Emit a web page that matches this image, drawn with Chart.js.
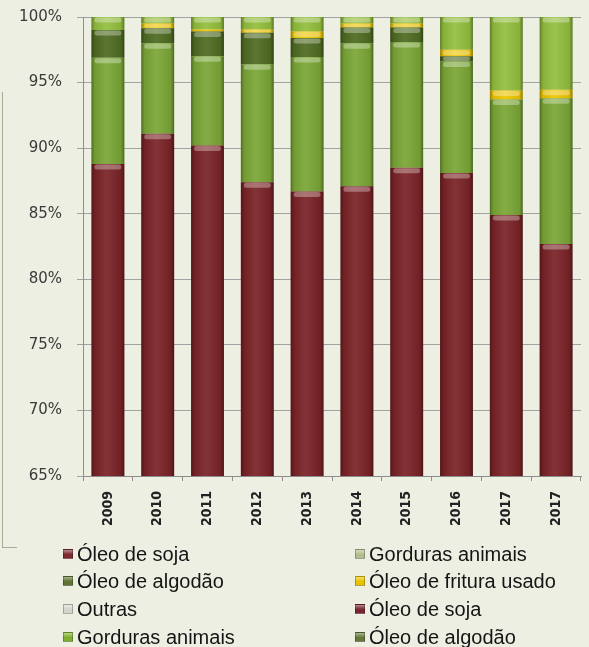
<!DOCTYPE html>
<html><head><meta charset="utf-8">
<script src="https://cdn.jsdelivr.net/npm/chart.js@4/dist/chart.umd.min.js"></script>
<style>
html,body{margin:0;padding:0;background:#edefe2;}
#wrap{position:relative;width:589px;height:647px;overflow:hidden;background:#edefe2;}
#c{position:absolute;left:0;top:0;}
#frame{position:absolute;left:2px;top:92px;width:14px;height:455px;border-left:1px solid #a3ad94;border-bottom:1px solid #a3ad94;}
#legend{position:absolute;left:0;top:0;width:589px;height:647px;pointer-events:none;font-family:'Liberation Sans',Arial,sans-serif;font-size:20px;color:#151515;}
.li{position:absolute;height:24px;display:flex;align-items:center;white-space:nowrap;}
.box{width:10px;height:10px;margin-right:4px;border:1px solid rgba(0,0,0,0.25);box-sizing:border-box;}
</style></head>
<body>
<div id="wrap">
<canvas id="c" width="589" height="647"></canvas>
<div id="frame"></div>
<div id="legend"></div>
</div>
<script>
const categories = ['2009','2010','2011','2012','2013','2014','2015','2016','2017','2017'];
const oleoSoja        = [88.8, 91.1, 90.2, 87.4, 86.7, 87.1, 88.5, 88.1, 84.9, 82.7];
const gordurasAnimais = [8.1, 6.9, 6.8, 9.0, 10.25, 10.9, 9.6, 8.5, 8.8, 11.1];
const oleoAlgodao     = [2.1, 1.15, 1.9, 2.4, 1.45, 1.2, 1.1, 0.4, 0, 0];
const oleoFritura     = [0, 0.35, 0.15, 0.25, 0.5, 0.3, 0.3, 0.5, 0.7, 0.65];
const outras          = [1.0, 0.5, 0.95, 0.95, 1.1, 0.5, 0.5, 2.5, 5.6, 5.55];
const yTicks = [65, 70, 75, 80, 85, 90, 95, 100];
const legendLabels = ['Óleo de soja','Gorduras animais','Óleo de algodão','Óleo de fritura usado','Outras','Óleo de soja','Gorduras animais','Óleo de algodão'];
const legendColors = ['#7b2a30','#b2be8e','#5f7433','#e8c300','#d3d6cc','#7a2630','#7fae2e','#66783a'];
const barColors = ['#7a2327','#7aa736','#4f6c22','#eec600','#93bf3e'];
const seriesData = [oleoSoja, gordurasAnimais, oleoAlgodao, oleoFritura, outras];

const datasets = legendLabels.map((lab,i)=>({
  label: lab,
  data: seriesData[i] || [],
  backgroundColor: barColors[i] || legendColors[i],
  borderWidth: 0,
  barPercentage: 0.66,
  categoryPercentage: 1.0
}));

function rr(ctx,x,y,w,h,r){
  ctx.beginPath();
  ctx.moveTo(x+r,y);ctx.lineTo(x+w-r,y);ctx.quadraticCurveTo(x+w,y,x+w,y+r);
  ctx.lineTo(x+w,y+h-r);ctx.quadraticCurveTo(x+w,y+h,x+w-r,y+h);
  ctx.lineTo(x+r,y+h);ctx.quadraticCurveTo(x,y+h,x,y+h-r);
  ctx.lineTo(x,y+r);ctx.quadraticCurveTo(x,y,x+r,y);ctx.closePath();ctx.fill();
}
const shade = {
  id:'shade',
  afterDatasetsDraw(chart){
    const {ctx, chartArea:a} = chart;
    ctx.save();
    ctx.beginPath(); ctx.rect(a.left,a.top,a.right-a.left,a.bottom-a.top); ctx.clip();
    chart.data.datasets.forEach((ds,di)=>{
      const meta = chart.getDatasetMeta(di);
      meta.data.forEach(el=>{
        const p = el.getProps(['x','y','base','width'], true);
        const l = p.x - p.width/2, r = p.x + p.width/2;
        const t = Math.min(p.y,p.base), b = Math.min(Math.max(p.y,p.base), a.bottom);
        const h = b - t;
        if (!(h > 0.6)) return;
        const g = ctx.createLinearGradient(l,0,r,0);
        g.addColorStop(0,'rgba(0,0,0,0.35)');
        g.addColorStop(0.1,'rgba(0,0,0,0.08)');
        g.addColorStop(0.45,'rgba(255,255,255,0.07)');
        g.addColorStop(0.9,'rgba(0,0,0,0.08)');
        g.addColorStop(1,'rgba(0,0,0,0.38)');
        ctx.fillStyle = g; ctx.fillRect(l,t,r-l,h);
        if (h > 3) {
          const hh = Math.min(5, h-1);
          ctx.fillStyle = 'rgba(255,255,255,0.32)';
          rr(ctx, l+3, t+0.5, r-l-6, hh, hh/2);
        }
      });
    });
    ctx.restore();
  }
};

const chart = new Chart(document.getElementById('c'), {
  type:'bar',
  data:{labels:categories, datasets},
  plugins:[shade],
  options:{
    responsive:false, animation:false,
    layout:{padding:{top:17,right:8,left:0,bottom:0}},
    plugins:{legend:{display:false}, tooltip:{enabled:false}},
    scales:{
      x:{
        stacked:true,
        grid:{offset:true, drawOnChartArea:false, tickLength:5, color:'#8e8e8e'},
        border:{color:'#8e8e8e'},
        ticks:{minRotation:90, maxRotation:90, padding:10, color:'#222',
               font:{family:"'Liberation Sans Narrow','DejaVu Sans Condensed',sans-serif", size:14, weight:'bold'}},
        afterFit(s){ s.height = 171; s.paddingLeft = 0; s.paddingRight = 0; }
      },
      y:{
        stacked:true, min:65, max:100,
        afterBuildTicks(s){ s.ticks = yTicks.map(v=>({value:v})); },
        grid:{color:'#a2a2a2', tickLength:6},
        border:{color:'#8e8e8e'},
        ticks:{padding:15, color:'#3a3a3a', callback:v=>v+'%',
               font:{family:"'DejaVu Sans',sans-serif", size:15}},
        afterFit(s){ s.width = 83; s.paddingTop = 0; s.paddingBottom = 0; }
      }
    }
  }
});

// HTML legend built from the chart datasets (two columns)
const lg = document.getElementById('legend');
const colLeft = [63, 355], rowCenter = [554, 581, 609, 637];
chart.data.datasets.forEach((ds,i)=>{
  const d = document.createElement('div');
  d.className='li';
  d.style.left = colLeft[i%2]+'px';
  d.style.top = (rowCenter[Math.floor(i/2)]-12)+'px';
  const b = document.createElement('span');
  b.className='box';
  const c = legendColors[i];
  b.style.background = 'linear-gradient(to bottom, rgba(255,255,255,0.45), rgba(255,255,255,0) 55%), ' + c;
  const s = document.createElement('span');
  s.textContent = ds.label;
  d.appendChild(b); d.appendChild(s);
  lg.appendChild(d);
});
</script>
</body></html>
